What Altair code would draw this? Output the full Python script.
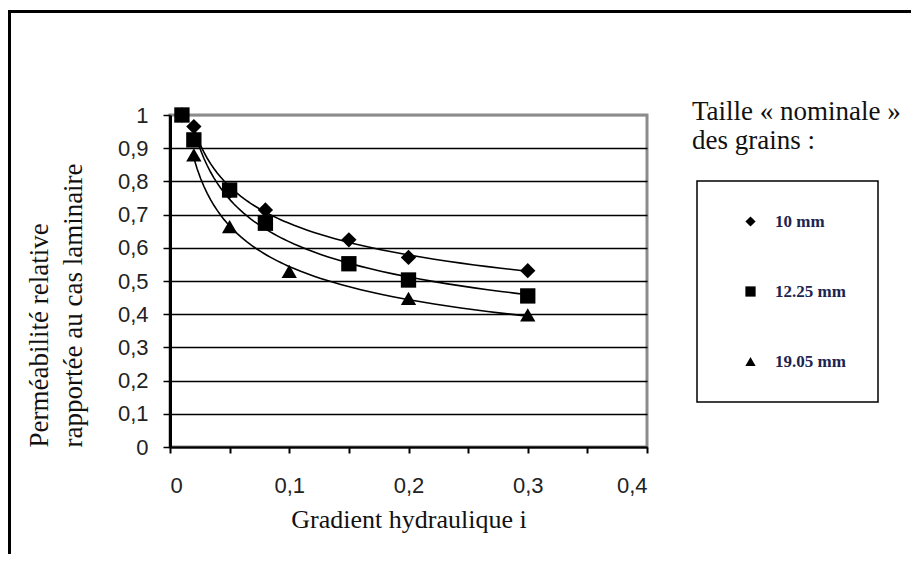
import altair as alt
import pandas as pd

# --- data ---
series_names = ["10 mm", "12.25 mm", "19.05 mm"]

x_10 = [0.01, 0.02, 0.05, 0.08, 0.15, 0.20, 0.30]
y_10 = [1.00, 0.965, 0.77, 0.714, 0.624, 0.571, 0.531]

x_19 = [0.01, 0.02, 0.05, 0.10, 0.20, 0.30]
y_19 = [1.00, 0.88, 0.664, 0.529, 0.448, 0.398]

x_12 = [0.01, 0.02, 0.05, 0.08, 0.15, 0.20, 0.30]
y_12 = [1.00, 0.925, 0.774, 0.674, 0.552, 0.503, 0.455]

y_ticks = [0, 0.1, 0.2, 0.3, 0.4, 0.5, 0.6, 0.7, 0.8, 0.9, 1.0]
x_ticks = [0, 0.05, 0.1, 0.15, 0.2, 0.25, 0.3, 0.35, 0.4]

rows = []
for name, xs, ys in [("10 mm", x_10, y_10), ("19.05 mm", x_19, y_19), ("12.25 mm", x_12, y_12)]:
    for a, b in zip(xs, ys):
        rows.append({"series": name, "x": a, "y": b})
df = pd.DataFrame(rows)

W, H = 477, 332
PAD_L, PAD_T = 162, 107

serif = "Liberation Serif, Times New Roman, serif"
sans = "Liberation Sans, Arial, sans-serif"

x_enc = alt.X("x:Q", scale=alt.Scale(domain=[0, 0.4], nice=False),
              axis=alt.Axis(values=x_ticks, grid=False, domainColor="black", domainWidth=2,
                            tickColor="black", tickWidth=2, tickSize=6,
                            labelExpr="(round(datum.value*100) % 10 == 0) ? replace(format(datum.value, '.1~f'), '.', ',') : ''",
                            labelFont=sans, labelFontSize=22, labelColor="#222", labelPadding=22,
                            title="Gradient hydraulique i", titleFont=serif, titleFontSize=26,
                            titleFontWeight="normal", titleColor="#111", titlePadding=10))
y_enc = alt.Y("y:Q", scale=alt.Scale(domain=[0, 1], nice=False),
              axis=alt.Axis(values=y_ticks, grid=True,
                            gridColor=alt.ConditionalAxisColor(condition={"test": "datum.value == 1", "value": "#8c8c8c"}, value="black"),
                            gridWidth=1.5,
                            domainColor="black", domainWidth=3,
                            tickColor="black", tickWidth=1.5, tickSize=7,
                            labelExpr="replace(format(datum.value, '.1~f'), '.', ',')",
                            labelFont=sans, labelFontSize=22, labelColor="#222", labelPadding=15,
                            title=["Perméabilité relative", "rapportée au cas laminaire"],
                            titleFont=serif, titleFontSize=27, titleFontWeight="normal",
                            titleColor="#111", titlePadding=30, titleAnchor="start",
                            titleAlign="left", titleLineHeight=34))

shape_scale = alt.Scale(domain=series_names, range=["diamond", "square", "triangle-up"])

base = alt.Chart(df)

curves = base.transform_filter("datum.x >= 0.02").transform_regression(
    "x", "y", method="pow", groupby=["series"]
).mark_line(color="black", strokeWidth=1.6).encode(
    x=x_enc, y=y_enc, detail="series:N"
)

points = base.mark_point(filled=True, color="black", opacity=1, size=235).encode(
    x=x_enc, y=y_enc,
    shape=alt.Shape("series:N", scale=shape_scale,
                    legend=alt.Legend(title=None, orient="none", legendX=527, legendY=66,
                                      padding=32, symbolOffset=13, symbolSize=105,
                                      rowPadding=52, labelOffset=16,
                                      labelFont=serif, labelFontSize=17, labelFontWeight="bold",
                                      labelColor="#1c2450", strokeColor="black")),
)

frame = alt.Chart(pd.DataFrame({"a": [0]})).mark_rect(
    fill=None, stroke="black", strokeWidth=3
).encode(
    x=alt.value(-160.5), x2=alt.value(W + 400), y=alt.value(-103.5), y2=alt.value(H + 300)
)

chart = alt.layer(frame, curves, points).properties(
    width=W, height=H,
    autosize=alt.AutoSizeParams(type="none"),
    padding={"left": PAD_L, "top": PAD_T, "right": 903 - PAD_L - W, "bottom": 546 - PAD_T - H},
    title=alt.TitleParams(["Taille « nominale »", "des grains :"], anchor="start", frame="group",
                          dx=522, dy=149,
                          font=serif, fontSize=27, fontWeight="normal", color="#111",
                          lineHeight=29),
).configure(background="white").configure_view(
    stroke="#8c8c8c", strokeWidth=3
).configure_legend(strokeWidth=1.5, symbolFillColor="black", symbolStrokeColor="black")

chart.save("out.html", embed_options={"renderer": "svg", "actions": False})
